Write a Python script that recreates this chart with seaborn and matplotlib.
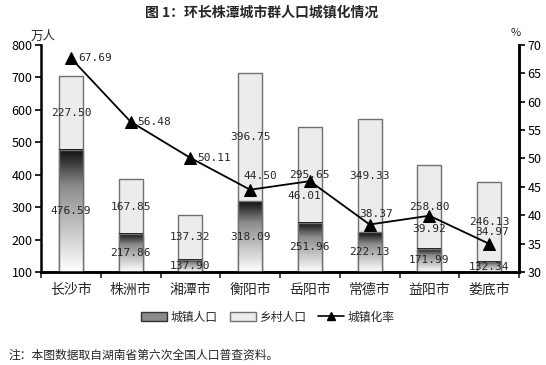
import numpy as np
import pandas as pd
import seaborn as sns
import matplotlib.pyplot as plt
from matplotlib.colors import LinearSegmentedColormap
from matplotlib.patches import Patch
from matplotlib.lines import Line2D

cities = ["长沙市", "株洲市", "湘潭市", "衡阳市", "岳阳市", "常德市", "益阳市", "娄底市"]
urban = [476.59, 217.86, 137.90, 318.09, 251.96, 222.13, 171.99, 132.34]
rural = [227.50, 167.85, 137.32, 396.75, 295.65, 349.33, 258.80, 246.13]
rate = [67.69, 56.48, 50.11, 44.50, 46.01, 38.37, 39.92, 34.97]

# label offsets for the rate labels (points): (dx, dy, ha, va)
rate_pos = [(5, 0, "left", "center"), (5, 0, "left", "center"), (5, 0, "left", "center"),
            (7, 6, "center", "bottom"), (-4, -7, "center", "top"), (5, 4, "center", "bottom"),
            (0, -6, "center", "top"), (2, 5, "center", "bottom")]

sns.set_style("ticks")
plt.rcParams["font.family"] = ["Noto Sans CJK SC", "DejaVu Sans"]

df = pd.DataFrame({"city": cities, "urban": urban, "rural": rural})
df["total"] = df["urban"] + df["rural"]

fig, ax = plt.subplots(figsize=(5.46, 3.65), dpi=100)
fig.subplots_adjust(left=41 / 546, right=519 / 546, top=1 - 45 / 365, bottom=1 - 272 / 365)

edge = "#707070"
sns.barplot(data=df, x="city", y="total", color="#ececec", edgecolor=edge, linewidth=1,
            width=0.4, saturation=1, ax=ax, zorder=2)
sns.barplot(data=df, x="city", y="urban", color="white", edgecolor=edge, linewidth=1,
            width=0.4, saturation=1, ax=ax, zorder=4)

ymin, ymax = 100, 800
cmap = LinearSegmentedColormap.from_list("grad", [(0, "white"), (0.7, "#8c8c8c"), (0.93, "#2a2a2a"), (1, "#111111")])
grad = np.linspace(0, 1, 256).reshape(-1, 1)
for bar in ax.containers[1]:
    x0, w, top = bar.get_x(), bar.get_width(), bar.get_height()
    ax.imshow(grad, extent=(x0, x0 + w, ymin, top), origin="lower", aspect="auto",
              cmap=cmap, zorder=3, interpolation="bilinear")
    bar.set_facecolor("none")
    bar.set_zorder(4)

ax.set_xlim(-0.5, len(cities) - 0.5)
ax.set_ylim(ymin, ymax)
ax.set_yticks(range(100, 801, 100))
ax.set_xlabel("")
ax.set_ylabel("")

mono = "DejaVu Sans Mono"
for i, (u, r) in enumerate(zip(urban, rural)):
    ax.text(i, (ymin + u) / 2, f"{u:.2f}", ha="center", va="center", fontsize=8,
            family=mono, zorder=5)
    ax.text(i, u + r / 2, f"{r:.2f}", ha="center", va="center", fontsize=8,
            family=mono, zorder=5)

ax2 = ax.twinx()
sns.lineplot(x=np.arange(len(cities)), y=rate, ax=ax2, color="black", linewidth=1.3,
             marker="^", markersize=9, markeredgecolor="black", markerfacecolor="black")
ax2.set_ylim(30, 70)
ax2.set_yticks(range(30, 71, 5))
for i, v in enumerate(rate):
    dx, dy, ha, va = rate_pos[i]
    ax2.annotate(f"{v:.2f}", (i, v), xytext=(dx, dy), textcoords="offset points",
                 ha=ha, va=va, fontsize=8, family=mono)

for a in (ax, ax2):
    a.spines["top"].set_visible(False)
    for s in ("left", "right", "bottom"):
        a.spines[s].set_linewidth(1.8)
        a.spines[s].set_color("black")
    a.tick_params(axis="y", labelsize=9, length=4, width=1.2, colors="black", pad=2)
ax2.spines["left"].set_visible(False)

ax.set_xticks(range(len(cities)))
ax.set_xticklabels(cities, fontsize=10)
ax.tick_params(axis="x", which="major", length=0, pad=8)
ax.set_xticks(np.arange(-0.5, len(cities), 1), minor=True)
ax.tick_params(axis="x", which="minor", length=4, width=1.2, direction="out")

fig.text(262 / 546, 1 - 12 / 365, "图 1：环长株潭城市群人口城镇化情况", ha="center", va="center",
         fontsize=10, fontweight="bold")
fig.text(43 / 546, 1 - 36 / 365, "万人", ha="center", va="center", fontsize=9)
fig.text(516 / 546, 1 - 33 / 365, "%", ha="center", va="center", fontsize=8)
fig.text(8 / 546, 1 - 355 / 365, "注：本图数据取自湖南省第六次全国人口普查资料。", ha="left", va="center", fontsize=8.5)

handles = [Patch(facecolor="#8a8a8a", edgecolor="#333333", linewidth=1),
           Patch(facecolor="#ececec", edgecolor=edge, linewidth=1),
           Line2D([], [], color="black", marker="^", markersize=6, linewidth=1.2)]
fig.legend(handles, ["城镇人口", "乡村人口", "城镇化率"], loc="center",
           bbox_to_anchor=(268 / 546, 1 - 317 / 365), ncol=3, frameon=False, fontsize=8.5,
           handlelength=2.2, handleheight=0.7, columnspacing=1.0, handletextpad=0.3)

fig.savefig("out.png", dpi=100)
